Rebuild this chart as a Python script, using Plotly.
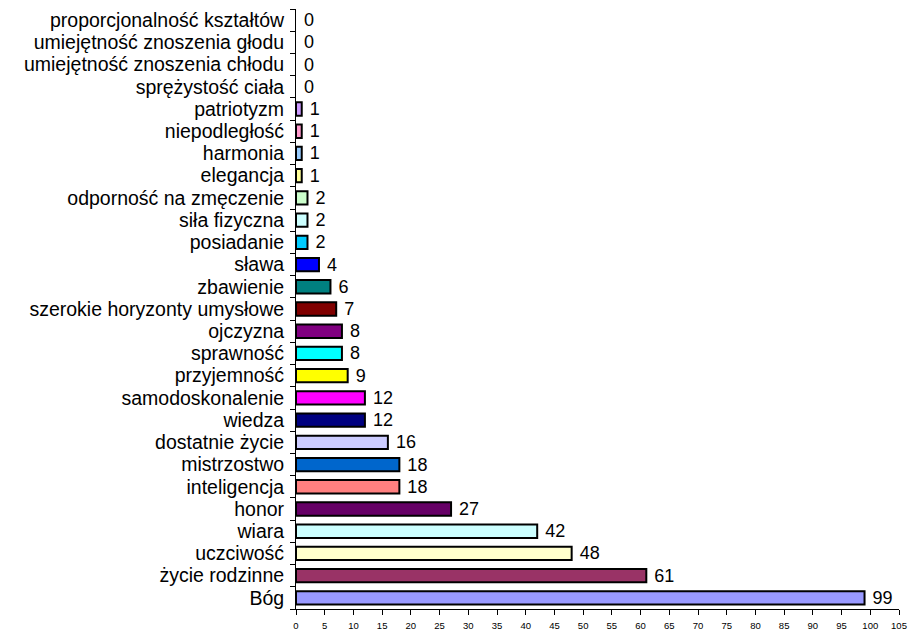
import plotly.graph_objects as go

categories = ["Bóg", "życie rodzinne", "uczciwość", "wiara", "honor", "inteligencja",
              "mistrzostwo", "dostatnie życie", "wiedza", "samodoskonalenie", "przyjemność",
              "sprawność", "ojczyzna", "szerokie horyzonty umysłowe", "zbawienie", "sława",
              "posiadanie", "siła fizyczna", "odporność na zmęczenie", "elegancja", "harmonia",
              "niepodległość", "patriotyzm", "sprężystość ciała", "umiejętność znoszenia chłodu",
              "umiejętność znoszenia głodu", "proporcjonalność kształtów"]
values = [99, 61, 48, 42, 27, 18, 18, 16, 12, 12, 9, 8, 8, 7, 6, 4, 2, 2, 2, 1, 1, 1, 1, 0, 0, 0, 0]
colors = ["#9999FF", "#993366", "#FFFFCC", "#CCFFFF", "#660066", "#FF8080", "#0066CC",
          "#CCCCFF", "#000080", "#FF00FF", "#FFFF00", "#00FFFF", "#800080", "#800000",
          "#008080", "#0000FF", "#00CCFF", "#CCFFFF", "#CCFFCC", "#FFFF99", "#99CCFF",
          "#FF99CC", "#CC99FF", "#FF9900", "#3366FF", "#33CCCC", "#99CC00"]
x_ticks = list(range(0, 106, 5))

line_widths = [2 if v > 0 else 0 for v in values]

fig = go.Figure(go.Bar(
    y=categories, x=values, orientation="h",
    marker=dict(color=colors, line=dict(color="black", width=line_widths)),
    width=0.6,
    text=[str(v) for v in values], textposition="outside",
    texttemplate=" %{text}", constraintext="none",
    textfont=dict(family="Liberation Sans, Arial", size=18, color="black"),
    cliponaxis=False,
))

fig.update_layout(
    width=910, height=633,
    paper_bgcolor="white", plot_bgcolor="white",
    margin=dict(l=296, r=11, t=9, b=24),
    showlegend=False,
    font=dict(family="Liberation Sans, Arial", color="black"),
)
fig.update_xaxes(
    range=[0, 105], tickmode="array", tickvals=x_ticks, ticktext=[str(t) for t in x_ticks],
    showgrid=False, zeroline=False, showline=True, linecolor="black", linewidth=1,
    ticks="outside", ticklen=5, tickcolor="black", tickfont=dict(size=9.5),
    ticklabelstandoff=3, automargin=False,
)
fig.update_yaxes(
    categoryorder="array", categoryarray=categories, range=[-0.5, len(categories) - 0.5],
    tickmode="array", tickvals=categories, ticktext=categories,
    showgrid=False, zeroline=False, showline=True, linecolor="black", linewidth=1,
    ticks="outside", ticklen=5, tickcolor="black", tickson="boundaries",
    tickfont=dict(size=19.5), ticklabelstandoff=7, automargin=False,
)

fig.write_html("out.html", config={"displayModeBar": False},
               post_script="document.body.style.margin='0';")
